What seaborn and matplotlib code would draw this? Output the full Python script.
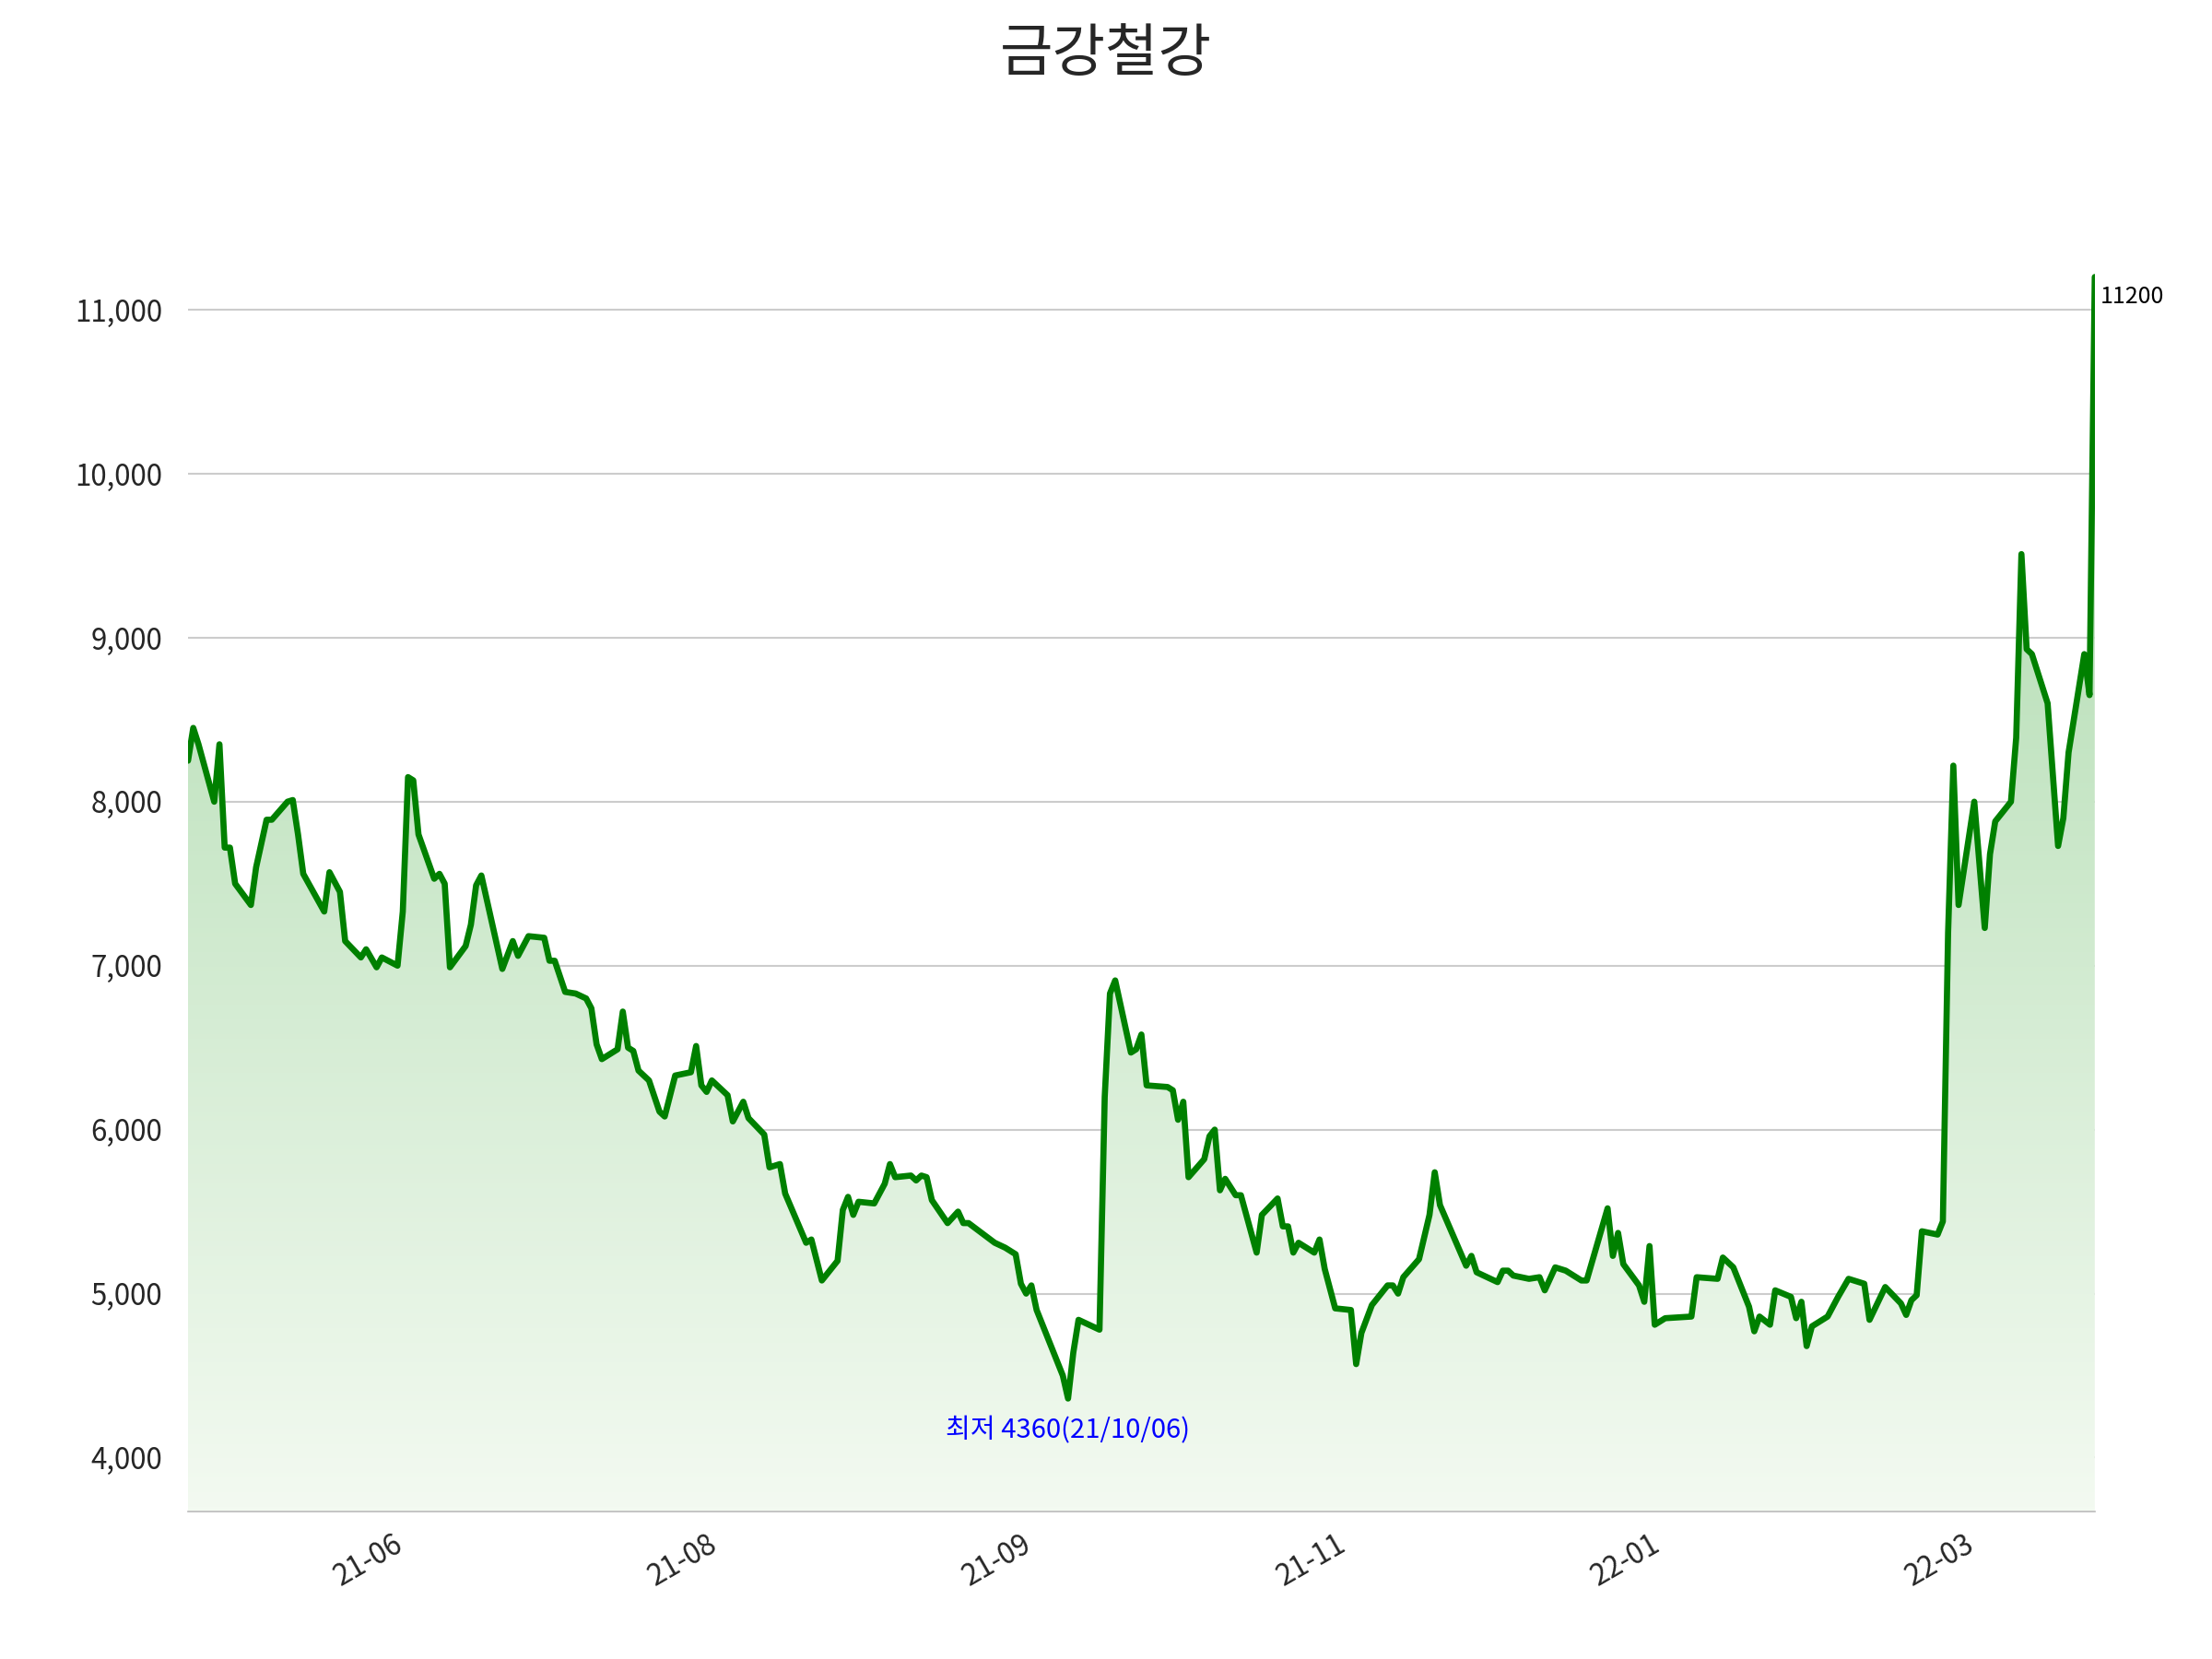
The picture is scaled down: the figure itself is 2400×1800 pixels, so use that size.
import numpy as np
import pandas as pd
import matplotlib
matplotlib.use("Agg")
import matplotlib.pyplot as plt
import seaborn as sns
from matplotlib.patches import Polygon

start_date = "2021-03-22"
day_offsets = [0,1,2,5,6,7,8,9,12,13,15,16,19,20,21,22,26,27,29,30,33,34,36,37,40,41,42,43,44,47,48,49,50,53,54,55,56,60,62,63,65,68,69,70,72,74,76,77,78,79,82,83,84,85,86,88,90,91,93,96,97,98,99,100,103,104,106,107,110,111,113,114,118,119,121,124,125,126,127,128,131,133,134,135,138,139,140,141,142,145,147,148,149,154,156,158,159,160,161,162,167,168,169,170,174,175,176,177,180,181,182,183,187,188,189,190,191,194,195,196,197,198,200,201,204,205,208,209,210,211,212,215,216,217,219,222,223,224,226,229,230,231,232,235,237,238,239,244,245,246,250,251,252,253,256,258,259,261,263,265,266,267,271,272,273,274,277,278,279,280,282,287,288,292,293,295,298,299,300,302,303,306,307,308,309,310,313,315,317,320,321,324,327,328,329,330,331,334,335,336,337,338,341,343,344,345,348,349,350,351,352,355,357,358,359,362,363,364]
prices = [8250,8450,8350,8000,8350,7720,7720,7500,7370,7600,7890,7890,8000,8010,7800,7560,7330,7570,7450,7150,7050,7100,6990,7050,7000,7330,8150,8130,7800,7530,7560,7500,6990,7120,7250,7490,7550,6980,7150,7060,7180,7170,7030,7030,6840,6830,6800,6740,6520,6430,6490,6720,6500,6480,6360,6300,6110,6080,6330,6350,6510,6270,6230,6300,6210,6050,6170,6070,5970,5770,5790,5610,5310,5330,5080,5200,5510,5590,5480,5560,5550,5670,5790,5710,5720,5690,5720,5710,5570,5430,5500,5430,5430,5310,5280,5240,5060,5000,5050,4900,4500,4360,4640,4840,4780,6200,6830,6910,6470,6490,6580,6270,6260,6240,6060,6170,5710,5820,5960,6000,5630,5700,5600,5600,5250,5480,5580,5410,5410,5250,5310,5250,5330,5150,4910,4900,4570,4760,4930,5050,5050,5000,5100,5210,5480,5740,5540,5170,5230,5130,5070,5140,5140,5110,5090,5100,5020,5160,5140,5100,5080,5080,5520,5230,5370,5180,5050,4950,5290,4810,4850,4860,5100,5090,5220,5160,4920,4770,4860,4810,5020,4980,4850,4950,4680,4800,4860,4980,5090,5060,4840,5040,4940,4870,4960,4990,5380,5360,5440,7200,8220,7370,8000,7230,7680,7880,8000,8390,9510,8930,8900,8600,7730,7900,8300,8900,8650,11200]
tick_offsets = [42, 102, 162, 222, 282, 342]
tick_labels = ["21-06", "21-08", "21-09", "21-11", "22-01", "22-03"]
title = "금강철강"
min_label = "최저 4360(21/10/06)"
max_label = "11200"

df = pd.DataFrame({
    "date": pd.Timestamp(start_date) + pd.to_timedelta(day_offsets, unit="D"),
    "price": prices,
})

sns.set_style("white")
plt.rcParams["font.family"] = ["Noto Sans CJK KR", "DejaVu Sans"]

fig = plt.figure(figsize=(16, 12), dpi=150)
ax = fig.add_axes([0.085, 0.089, 0.862, 0.747])
ymin, ymax = 3672, 11230
xnum = matplotlib.dates.date2num(df["date"])

# gradient fill under the line
grad = np.linspace(0, 1, 256).reshape(-1, 1)
cmap = matplotlib.colors.LinearSegmentedColormap.from_list("g", ["#f3faf1", "#a8d8a8"])
im = ax.imshow(grad, aspect="auto", cmap=cmap, origin="lower",
               extent=[xnum[0], xnum[-1], ymin, max(prices)], zorder=1)
poly = Polygon(np.column_stack([np.r_[xnum, xnum[-1], xnum[0]],
                                np.r_[df["price"], ymin, ymin]]),
               closed=True, facecolor="none", edgecolor="none")
ax.add_patch(poly)
im.set_clip_path(poly)

sns.lineplot(data=df, x="date", y="price", ax=ax, color="#008000", linewidth=3.2, zorder=3)

ax.set_xlim(xnum[0], xnum[-1])
ax.set_ylim(ymin, ymax)
ax.set_yticks([4000, 5000, 6000, 7000, 8000, 9000, 10000, 11000])
ax.yaxis.set_major_formatter(matplotlib.ticker.FuncFormatter(lambda v, p: f"{int(v):,}"))
tick_dates = pd.Timestamp(start_date) + pd.to_timedelta(tick_offsets, unit="D")
ax.set_xticks(matplotlib.dates.date2num(tick_dates))
ax.set_xticklabels(tick_labels, rotation=30, ha="right")
ax.tick_params(axis="both", labelsize=15, length=6, color="#bbbbbb")
ax.tick_params(axis="y", length=10)
ax.grid(axis="y", color="#cccccc", linewidth=1)
ax.set_axisbelow(True)
ax.set_xlabel("")
ax.set_ylabel("")
for s in ["left", "right", "top"]:
    ax.spines[s].set_visible(False)
ax.spines["bottom"].set_color("#bbbbbb")

imin = int(np.argmin(prices))
ax.text(xnum[imin], prices[imin] - 110, min_label, color="blue", fontsize=14,
        ha="center", va="top", zorder=4)
ax.text(xnum[-1] + 1, max(prices) - 50, max_label, color="black", fontsize=12,
        ha="left", va="top", zorder=4)

fig.suptitle(title, fontsize=30, y=0.985)
fig.savefig("out.png", dpi=150)
